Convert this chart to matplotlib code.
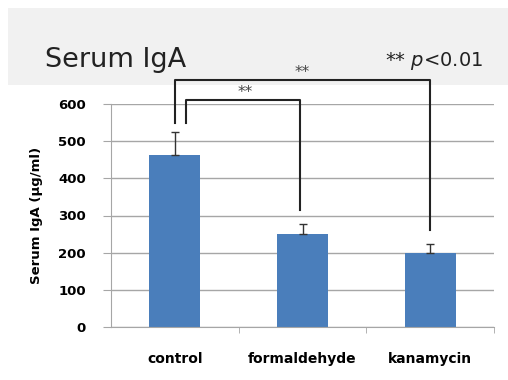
import matplotlib.pyplot as plt
from matplotlib.patches import Rectangle

# data
groups = ['control', 'formaldehyde', 'kanamycin']
iga = [462, 250, 200]
iga_err = [63, 27, 23]
yticks = [0, 100, 200, 300, 400, 500, 600]

fig = plt.figure(figsize=(5.08, 3.80), dpi=100)
fig.patch.set_facecolor('white')
# light grey title band
fig.patches.append(Rectangle((8/508, 1-85/380), 1, 77/380, transform=fig.transFigure,
                             facecolor='#f1f1f1', edgecolor='none', zorder=-5))

ax = fig.add_axes([111/508, 1-327/380, (494-111)/508, (327-104)/380])
ax.set_facecolor('white')
x = range(len(groups))
ax.bar(x, iga, width=0.4, color='#4a7ebb', zorder=2)
ax.errorbar(x, iga, yerr=[[0]*3, iga_err], fmt='none', ecolor='#333333',
            elinewidth=1, capsize=3, capthick=1, zorder=3)

ax.set_xlim(-0.5, 2.5)
ax.set_ylim(0, 600)
ax.set_yticks(yticks)
ax.set_yticklabels([str(v) for v in yticks], fontsize=9.5, fontweight='bold')
ax.yaxis.grid(True, color='#a6a6a6', linewidth=1, zorder=0)
ax.set_axisbelow(True)
ax.set_xticks(list(x))
ax.set_xticklabels(groups, fontsize=10, fontweight='bold')
ax.tick_params(axis='x', length=0, pad=18)
ax.set_xticks([0.5, 1.5, 2.5], minor=True)
ax.tick_params(axis='x', which='minor', length=4, color='#a6a6a6')
ax.tick_params(axis='y', length=6, color='#a6a6a6', pad=12)
for s in ['top', 'right']:
    ax.spines[s].set_visible(False)
ax.spines['left'].set_color('#a6a6a6')
ax.spines['bottom'].set_color('#a6a6a6')
ax.set_ylabel('Serum IgA (μg/ml)', fontsize=9.5, fontweight='bold', labelpad=11)

# significance brackets
ax.plot([0, 0, 2, 2], [548, 664, 664, 260], color='#222222', lw=1.5, clip_on=False, zorder=4)
ax.plot([0.09, 0.09, 0.98, 0.98], [548, 610, 610, 315], color='#222222', lw=1.5, clip_on=False, zorder=4)
ax.text(1.0, 664, '**', ha='center', va='bottom', fontsize=11, color='#444444')
ax.text(0.55, 610, '**', ha='center', va='bottom', fontsize=11, color='#444444')

fig.text(45/508, 1-60/380, 'Serum IgA', fontsize=19.5, va='center', ha='left', color='#222222')
fig.text(483/508, 1-61/380, '** $p$<0.01', fontsize=14, va='center', ha='right', color='#222222')

fig.savefig('out.png', dpi=100)
